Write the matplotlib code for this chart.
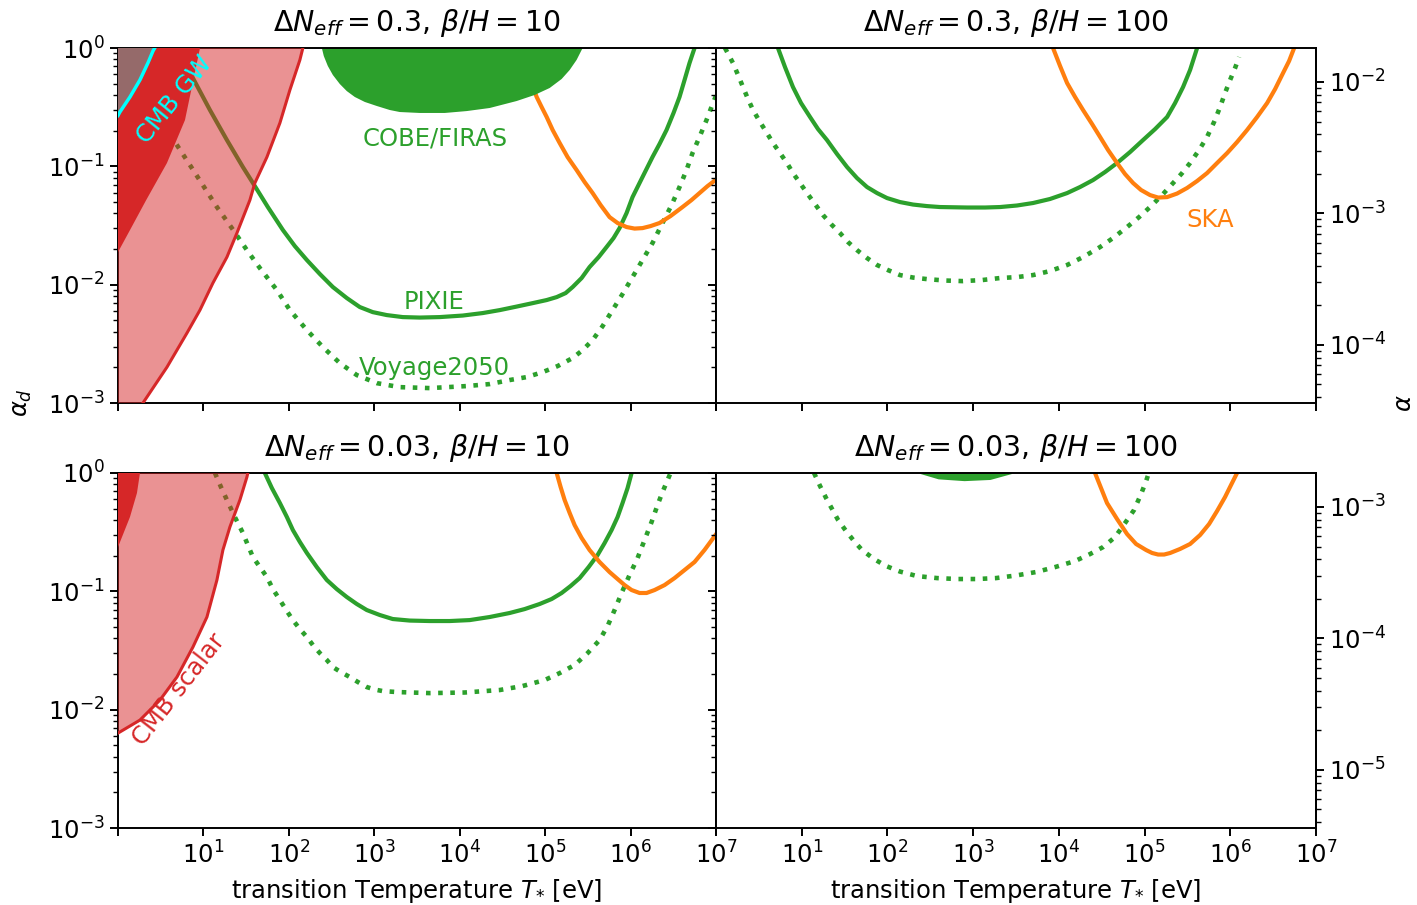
import numpy as np
import matplotlib
matplotlib.use('Agg')
import matplotlib.pyplot as plt
from matplotlib.ticker import NullLocator, LogLocator, NullFormatter

# ---------------- data: log10(T*/eV) and log10(alpha_d) ----------------
# top-left: dNeff=0.3, beta/H=10
cmbs_tl_logT = [0.0, 0.292, 0.573, 0.807, 0.959, 1.111, 1.275, 1.392, 1.544, 1.602, 1.743, 1.895, 2.012, 2.129, 2.164]
cmbs_tl_logA = [-3.0, -3.0, -2.697, -2.409, -2.215, -1.986, -1.767, -1.564, -1.285, -1.141, -0.922, -0.634, -0.355, -0.101, 0.0]
cmbgw_dark_tl_logT = [0.0, 0.14, 0.33, 0.573, 0.784, 0.96]
cmbgw_dark_tl_logA = [-1.725, -1.539, -1.285, -0.972, -0.609, 0.0]
cmbgw_line_tl_logT = [0.0, 0.023, 0.14, 0.257, 0.35, 0.41, 0.43]
cmbgw_line_tl_logA = [-0.57, -0.54, -0.414, -0.27, -0.127, -0.025, 0.0]
cobe_tl_logT = [2.386, 2.409, 2.456, 2.515, 2.596, 2.678, 2.772, 2.889, 3.029, 3.181, 3.298, 3.532, 3.825, 4.082,
                4.351, 4.667, 4.877, 5.053, 5.193, 5.287, 5.368, 5.439]
cobe_tl_logA = [0.0, -0.068, -0.152, -0.228, -0.304, -0.364, -0.414, -0.456, -0.490, -0.524, -0.541, -0.549, -0.549, -0.533,
                -0.507, -0.448, -0.397, -0.338, -0.262, -0.186, -0.101, 0.0]
pixie_tl_logT = [0.667, 0.877, 1.076, 1.275, 1.462, 1.602, 1.754, 1.930, 2.070, 2.211, 2.363, 2.515, 2.678, 2.830,
                 2.982, 3.146, 3.333, 3.532, 3.766, 4.035, 4.269, 4.468, 4.667, 4.854, 5.018, 5.135, 5.240, 5.322,
                 5.427, 5.520, 5.626, 5.719, 5.801, 5.871, 5.953, 6.023, 6.140, 6.257, 6.339, 6.421, 6.503, 6.573,
                 6.632, 6.690, 6.749]
pixie_tl_logA = [0.0, -0.254, -0.524, -0.778, -1.006, -1.167, -1.344, -1.538, -1.674, -1.792, -1.910, -2.020, -2.113, -2.189,
                 -2.232, -2.257, -2.274, -2.278, -2.274, -2.261, -2.240, -2.215, -2.185, -2.156, -2.130, -2.105, -2.071, -2.020,
                 -1.944, -1.851, -1.767, -1.682, -1.606, -1.522, -1.395, -1.260, -1.090, -0.921, -0.811, -0.693, -0.549, -0.414,
                 -0.270, -0.127, 0.0]
voy_tl_logT = [0.3, 0.667, 0.842, 1.158, 1.333, 1.509, 1.661, 1.860, 2.012, 2.211, 2.398, 2.597, 2.795, 3.029, 3.298,
               3.649, 4.082, 4.351, 4.585, 4.784, 4.971, 5.146, 5.322, 5.439, 5.556, 5.673, 5.789, 5.906, 6.023, 6.140,
               6.257, 6.374, 6.480, 6.573, 6.655, 6.725, 6.807, 6.889, 6.947, 6.994, 7.064]
voy_tl_logA = [-0.385, -0.795, -0.989, -1.344, -1.522, -1.708, -1.860, -2.046, -2.215, -2.384, -2.527, -2.663, -2.764, -2.832, -2.866,
               -2.874, -2.857, -2.840, -2.806, -2.781, -2.739, -2.688, -2.620, -2.553, -2.468, -2.350, -2.215, -2.079, -1.936, -1.792,
               -1.648, -1.479, -1.327, -1.175, -1.031, -0.888, -0.752, -0.609, -0.499, -0.414, -0.313]
ska_tl_logT = [4.678, 4.725, 4.784, 4.842, 4.901, 4.959, 5.018, 5.088, 5.170, 5.263, 5.368, 5.462, 5.556, 5.649, 5.754,
               5.848, 5.953, 6.047, 6.140, 6.234, 6.339, 6.468, 6.608, 6.713, 6.807, 6.901, 6.994, 7.064]
ska_tl_logA = [0.0, -0.085, -0.186, -0.304, -0.414, -0.499, -0.583, -0.693, -0.803, -0.922, -1.031, -1.133, -1.226, -1.327, -1.429,
               -1.479, -1.513, -1.526, -1.522, -1.505, -1.479, -1.420, -1.344, -1.285, -1.226, -1.167, -1.116, -1.074]

# top-right: dNeff=0.3, beta/H=100
pixie_tr_logT = [0.723, 0.805, 0.898, 0.992, 1.097, 1.190, 1.295, 1.412, 1.529, 1.645, 1.762, 1.879, 1.995, 2.147, 2.299,
                 2.462, 2.614, 2.929, 3.139, 3.314, 3.512, 3.699, 3.897, 4.096, 4.247, 4.399, 4.539, 4.679, 4.831,
                 4.982, 5.123, 5.263, 5.356, 5.449, 5.531, 5.613]
pixie_tr_logA = [0.0, -0.161, -0.330, -0.465, -0.583, -0.685, -0.778, -0.896, -1.006, -1.099, -1.175, -1.226, -1.268, -1.302, -1.323,
                 -1.336, -1.344, -1.348, -1.348, -1.344, -1.331, -1.310, -1.276, -1.226, -1.175, -1.116, -1.048, -0.972, -0.879,
                 -0.778, -0.685, -0.583, -0.465, -0.330, -0.186, 0.0]
voy_tr_logT = [0.105, 0.198, 0.257, 0.315, 0.373, 0.432, 0.513, 0.595, 0.665, 0.747, 0.828, 0.898, 0.980, 1.062, 1.155,
               1.249, 1.342, 1.447, 1.540, 1.645, 1.762, 1.879, 2.007, 2.147, 2.299, 2.462, 2.672, 2.882, 3.104, 3.314,
               3.512, 3.699, 3.897, 4.096, 4.282, 4.481, 4.632, 4.796, 4.936, 5.064, 5.204, 5.333, 5.438, 5.531, 5.636,
               5.729, 5.811, 5.881, 5.939, 5.998, 6.056, 6.103]
voy_tr_logA = [0.0, -0.127, -0.228, -0.330, -0.431, -0.524, -0.625, -0.719, -0.803, -0.888, -0.972, -1.057, -1.141, -1.226, -1.319,
               -1.412, -1.488, -1.564, -1.640, -1.708, -1.775, -1.834, -1.877, -1.919, -1.940, -1.953, -1.965, -1.970, -1.961, -1.944,
               -1.936, -1.919, -1.885, -1.834, -1.767, -1.682, -1.606, -1.513, -1.429, -1.344, -1.243, -1.141, -1.057, -0.972, -0.862,
               -0.752, -0.625, -0.499, -0.380, -0.270, -0.169, -0.076]
ska_tr_logT = [3.932, 4.014, 4.096, 4.189, 4.282, 4.387, 4.481, 4.574, 4.679, 4.772, 4.866, 4.959, 5.064, 5.158, 5.263,
               5.379, 5.496, 5.613, 5.729, 5.846, 5.963, 6.079, 6.196, 6.313, 6.430, 6.523, 6.616, 6.686, 6.745]
ska_tr_logA = [0.0, -0.152, -0.296, -0.414, -0.524, -0.642, -0.752, -0.862, -0.972, -1.065, -1.141, -1.200, -1.243, -1.264, -1.260,
               -1.230, -1.183, -1.124, -1.057, -0.972, -0.888, -0.795, -0.693, -0.583, -0.465, -0.347, -0.211, -0.110, 0.0]

# bottom-left: dNeff=0.03, beta/H=10
cmbs_bl_logT = [0.0, 0.257, 0.491, 0.690, 0.877, 1.041, 1.158, 1.228, 1.310, 1.427, 1.509, 1.52]
cmbs_bl_logA = [-2.198, -2.088, -1.919, -1.724, -1.471, -1.217, -0.904, -0.651, -0.456, -0.228, -0.034, 0.0]
cmbgw_dark_bl_logT = [0.0, 0.14, 0.222, 0.257]
cmbgw_dark_bl_logA = [-0.626, -0.372, -0.169, 0.0]
pixie_bl_logT = [1.719, 1.801, 1.895, 1.977, 2.047, 2.129, 2.211, 2.327, 2.444, 2.561, 2.678, 2.795, 2.912, 3.064, 3.216,
                 3.415, 3.649, 3.883, 4.117, 4.351, 4.585, 4.760, 4.936, 5.076, 5.193, 5.298, 5.404, 5.509, 5.614,
                 5.696, 5.778, 5.848, 5.906, 5.965, 6.012]
pixie_bl_logA = [0.0, -0.127, -0.254, -0.372, -0.482, -0.583, -0.676, -0.795, -0.904, -0.981, -1.048, -1.107, -1.158, -1.200, -1.234,
                 -1.247, -1.251, -1.251, -1.243, -1.217, -1.183, -1.150, -1.107, -1.065, -1.014, -0.955, -0.888, -0.795, -0.693,
                 -0.592, -0.482, -0.372, -0.254, -0.127, 0.0]
voy_bl_logT = [1.135, 1.205, 1.275, 1.368, 1.462, 1.520, 1.579, 1.661, 1.743, 1.813, 1.895, 1.977, 2.047, 2.129, 2.211,
               2.281, 2.363, 2.444, 2.515, 2.608, 2.713, 2.807, 2.912, 3.006, 3.099, 3.263, 3.649, 4.058, 4.468, 4.737,
               4.994, 5.170, 5.345, 5.497, 5.637, 5.731, 5.813, 5.895, 5.988, 6.082, 6.164, 6.246, 6.316, 6.374, 6.433, 6.468]
voy_bl_logA = [0.0, -0.118, -0.228, -0.372, -0.507, -0.609, -0.710, -0.795, -0.879, -0.981, -1.073, -1.167, -1.243, -1.319, -1.386,
               -1.454, -1.522, -1.580, -1.640, -1.682, -1.724, -1.766, -1.809, -1.830, -1.843, -1.851, -1.860, -1.855, -1.834, -1.800,
               -1.750, -1.691, -1.623, -1.522, -1.412, -1.293, -1.158, -1.014, -0.862, -0.719, -0.566, -0.414, -0.270, -0.161, -0.059, 0.0]
ska_bl_logT = [5.135, 5.181, 5.228, 5.287, 5.345, 5.427, 5.520, 5.637, 5.754, 5.848, 5.930, 6.012, 6.105, 6.187, 6.281,
               6.398, 6.515, 6.632, 6.749, 6.865, 6.994, 7.064]
ska_bl_logA = [0.0, -0.118, -0.228, -0.338, -0.440, -0.549, -0.651, -0.752, -0.837, -0.896, -0.947, -0.989, -1.014, -1.014, -0.989,
               -0.947, -0.888, -0.820, -0.752, -0.651, -0.524, -0.456]

# bottom-right: dNeff=0.03, beta/H=100
cobe_br_logT = [2.39, 2.6, 2.9, 3.2, 3.45]
cobe_br_logA = [0.0, -0.045, -0.06, -0.05, 0.0]
voy_br_logT = [1.144, 1.214, 1.284, 1.354, 1.424, 1.517, 1.610, 1.704, 1.844, 1.984, 2.147, 2.345, 2.579, 2.812, 3.046,
               3.267, 3.501, 3.734, 3.956, 4.189, 4.364, 4.516, 4.656, 4.772, 4.877, 4.959, 5.018, 5.041]
voy_br_logA = [0.0, -0.110, -0.211, -0.304, -0.397, -0.490, -0.575, -0.651, -0.727, -0.786, -0.833, -0.871, -0.888, -0.896, -0.896,
               -0.888, -0.866, -0.837, -0.795, -0.744, -0.685, -0.626, -0.541, -0.423, -0.313, -0.178, -0.068, -0.017]
ska_br_logT = [4.422, 4.492, 4.562, 4.679, 4.796, 4.901, 5.018, 5.088, 5.158, 5.228, 5.298, 5.414, 5.531, 5.648, 5.753,
               5.846, 5.939, 6.009, 6.079]
ska_br_logA = [0.0, -0.127, -0.254, -0.389, -0.516, -0.600, -0.651, -0.676, -0.689, -0.689, -0.676, -0.642, -0.600, -0.524, -0.431,
               -0.321, -0.203, -0.101, 0.0]

titles = [r'$\Delta N_{eff} = 0.3,\,\beta/H = 10$', r'$\Delta N_{eff} = 0.3,\,\beta/H = 100$',
          r'$\Delta N_{eff} = 0.03,\,\beta/H = 10$', r'$\Delta N_{eff} = 0.03,\,\beta/H = 100$']
dneff = [0.3, 0.03]
xtick_exp = [0, 1, 2, 3, 4, 5, 6, 7]
xtick_labels = [''] + [r'$10^{%d}$' % e for e in xtick_exp[1:]]
alpha_ticks_top = [1e-4, 1e-3, 1e-2]
alpha_ticks_bottom = [1e-5, 1e-4, 1e-3]

# ---------------- style ----------------
GREEN = '#2ca02c'
ORANGE = '#ff7f0e'
RED = '#d62728'
FS = 17.5
plt.rcParams['font.family'] = ['DejaVu Sans']
plt.rcParams['font.size'] = FS
plt.rcParams['axes.linewidth'] = 1.4

W, H = 1417, 905
fig = plt.figure(figsize=(W / 100, H / 100), dpi=100)

def box(x0, x1, y0, y1):
    return [x0 / W, 1 - y1 / H, (x1 - x0) / W, (y1 - y0) / H]

ax_tl = fig.add_axes(box(118, 716, 48, 403))
ax_tr = fig.add_axes(box(716, 1316, 48, 403), sharey=ax_tl)
ax_bl = fig.add_axes(box(118, 716, 473, 828))
ax_br = fig.add_axes(box(716, 1316, 473, 828), sharey=ax_bl)
axes = [ax_tl, ax_tr, ax_bl, ax_br]

def P(lt, la):
    return 10.0 ** np.asarray(lt), 10.0 ** np.asarray(la)

LW = 3.0
LWD = 3.3
for ax, t in zip(axes, titles):
    ax.set_xscale('log')
    ax.set_yscale('log')
    ax.set_xlim(1, 1e7)
    ax.set_ylim(1e-3, 1)
    ax.set_title(t, fontsize=20.5, pad=12)
    ax.set_xticks(10.0 ** np.array(xtick_exp))
    ax.xaxis.set_minor_locator(NullLocator())
    ax.tick_params(which='major', length=6, width=1.4, labelsize=FS)
    ax.tick_params(which='minor', length=3.5, width=1.0)

for ax in [ax_tl, ax_tr]:
    ax.tick_params(labelbottom=False)
for ax in [ax_bl, ax_br]:
    ax.set_xticklabels(xtick_labels)
    ax.set_xlabel(r'transition Temperature $T_{*}$ [eV]', fontsize=FS, labelpad=6)
for ax in [ax_tr, ax_br]:
    ax.tick_params(labelleft=False)

# --- top-left
ax = ax_tl
ax.plot(*P(pixie_tl_logT, pixie_tl_logA), color=GREEN, lw=LW, zorder=2)
ax.plot(*P(voy_tl_logT, voy_tl_logA), color=GREEN, lw=LWD, ls=':', zorder=2)
ax.plot(*P(ska_tl_logT, ska_tl_logA), color=ORANGE, lw=LW, zorder=2)
ax.fill(*P(cobe_tl_logT, cobe_tl_logA), color=GREEN, lw=0, zorder=2)
x, y = P(cmbs_tl_logT, cmbs_tl_logA)
ax.fill(np.r_[x, 1.0], np.r_[y, 1.0], color=RED, alpha=0.5, lw=0, zorder=3)
ax.plot(x[1:], y[1:], color=RED, lw=2.2, zorder=4)
x, y = P(cmbgw_dark_tl_logT, cmbgw_dark_tl_logA)
ax.fill(np.r_[x, 1.0], np.r_[y, 1.0], color=RED, lw=0, zorder=4)
x, y = P(cmbgw_line_tl_logT, cmbgw_line_tl_logA)
ax.fill(np.r_[x, 1.0], np.r_[y, 1.0], color='#956a6a', lw=0, zorder=5)
ax.plot(x, y, color='cyan', lw=2.5, zorder=6)
ax.text(10 ** 3.708, 10 ** -0.761, 'COBE/FIRAS', color=GREEN, ha='center', va='center', fontsize=FS, zorder=7)
ax.text(10 ** 3.696, 10 ** -2.147, 'PIXIE', color=GREEN, ha='center', va='center', fontsize=FS, zorder=7)
ax.text(10 ** 3.708, 10 ** -2.705, 'Voyage2050', color=GREEN, ha='center', va='center', fontsize=FS, zorder=7)
ax.text(10 ** 0.66, 10 ** -0.44, 'CMB GW', color='cyan', ha='center', va='center', rotation=51,
        fontsize=FS, zorder=7)

# --- top-right
ax = ax_tr
ax.plot(*P(pixie_tr_logT, pixie_tr_logA), color=GREEN, lw=LW, zorder=2)
ax.plot(*P(voy_tr_logT, voy_tr_logA), color=GREEN, lw=LWD, ls=':', zorder=2)
ax.plot(*P(ska_tr_logT, ska_tr_logA), color=ORANGE, lw=LW, zorder=2)
ax.text(10 ** 5.764, 10 ** -1.454, 'SKA', color=ORANGE, ha='center', va='center', fontsize=FS, zorder=7)

# --- bottom-left
ax = ax_bl
ax.plot(*P(pixie_bl_logT, pixie_bl_logA), color=GREEN, lw=LW, zorder=2)
ax.plot(*P(voy_bl_logT, voy_bl_logA), color=GREEN, lw=LWD, ls=':', zorder=2)
ax.plot(*P(ska_bl_logT, ska_bl_logA), color=ORANGE, lw=LW, zorder=2)
x, y = P(cmbs_bl_logT, cmbs_bl_logA)
ax.fill(np.r_[x, 1.0], np.r_[y, 1.0], color=RED, alpha=0.5, lw=0, zorder=3)
ax.plot(x, y, color=RED, lw=2.2, zorder=4)
x, y = P(cmbgw_dark_bl_logT, cmbgw_dark_bl_logA)
ax.fill(np.r_[x, 1.0], np.r_[y, 1.0], color=RED, lw=0, zorder=4)
ax.text(10 ** 0.71, 10 ** -1.834, 'CMB scalar', color=RED, ha='center', va='center', rotation=52,
        fontsize=FS, zorder=7)

# --- bottom-right
ax = ax_br
ax.fill(*P(cobe_br_logT, cobe_br_logA), color=GREEN, lw=1.5, ec=GREEN, zorder=2)
ax.plot(*P(voy_br_logT, voy_br_logA), color=GREEN, lw=LWD, ls=':', zorder=2)
ax.plot(*P(ska_br_logT, ska_br_logA), color=ORANGE, lw=LW, zorder=2)

# secondary alpha axes
PEXP = 0.9
for ax, dn, ticks in [(ax_tr, dneff[0], alpha_ticks_top), (ax_br, dneff[1], alpha_ticks_bottom)]:
    k = 10 ** -1.742 * dn / 0.3
    def fwd(a, k=k):
        return k * np.power(np.clip(a, 1e-30, None), PEXP)
    def inv(b, k=k):
        return np.power(np.clip(b, 1e-30, None) / k, 1.0 / PEXP)
    sec = ax.secondary_yaxis('right', functions=(fwd, inv))
    sec.set_yticks(ticks)
    sec.yaxis.set_minor_locator(LogLocator(base=10, subs=np.arange(2, 10)))
    sec.yaxis.set_minor_formatter(NullFormatter())
    sec.tick_params(which='major', length=6, width=1.4, labelsize=FS)
    sec.tick_params(which='minor', length=3.5, width=1.0)

fig.text(22 / W, 1 - 403 / H, r'$\alpha_d$', rotation=90, ha='center', va='center', fontsize=FS)
fig.text(1404 / W, 1 - 403 / H, r'$\alpha$', rotation=90, ha='center', va='center', fontsize=FS)

fig.savefig('out.png', dpi=100)
